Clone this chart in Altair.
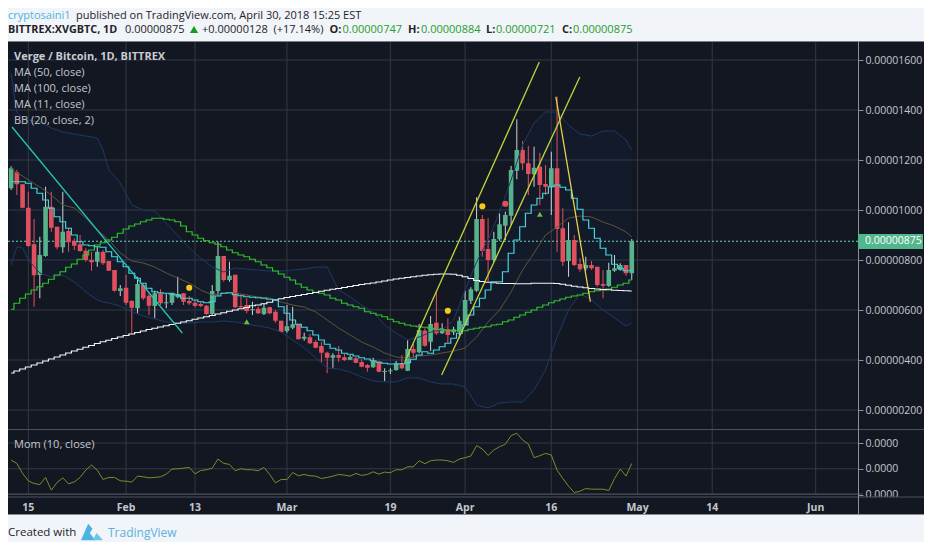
import altair as alt
import pandas as pd

# ---- data (prices in 1e-8 BTC) ----
opens = [1087,1151,1103,1009,863,740,816,1013,933,851,916,876,863,837,800,793,832,796,760,676,689,636,607,700,657,616,667,627,629,651,667,636,629,624,617,584,676,816,720,
         741,616,620,599,605,584,611,593,557,516,529,544,485,491,472,456,429,409,420,411,401,407,392,380,371,393,352,355,360,387,357,444,431,517,473,549,507,523,511,513,540,637,677,964,844,800,883,937,977,1157,1240,1187,1143,1173,1104,1091,1167,927,796,880,784,767,780,773,704,696,757,760,780,747]
highs = [1175,1160,1103,1073,964,893,1093,1073,933,1073,929,887,900,847,833,853,840,796,760,700,740,640,733,707,667,677,683,664,669,733,667,656,640,633,620,700,873,816,793,
         741,663,647,633,613,627,613,600,557,620,613,544,509,504,480,473,433,427,456,424,420,413,403,384,409,397,367,367,396,420,480,464,544,527,576,676,547,567,533,573,677,691,1051,980,967,913,987,993,1176,1363,1276,1256,1253,1229,1180,1233,1453,1007,951,900,807,813,796,773,760,789,820,787,780,884]
lows = [1080,1060,1007,853,613,647,813,913,843,829,833,840,833,793,757,773,780,757,673,656,620,503,587,640,580,567,620,607,620,647,620,620,611,611,580,580,657,713,713,
        607,607,587,580,584,580,583,549,509,509,523,483,477,464,447,391,347,369,393,396,400,387,371,353,369,351,316,344,357,363,356,407,427,453,436,500,504,467,500,487,540,624,673,813,713,793,877,880,940,1123,1160,1060,1093,1020,1060,980,833,776,733,776,753,757,760,693,647,693,753,757,737,721]
closes = [1167,1103,1009,856,739,820,1013,929,851,913,871,857,836,800,791,833,787,757,677,687,629,609,704,647,617,667,627,631,669,664,633,627,617,616,584,676,816,720,737,
          611,611,596,603,587,609,587,557,512,535,543,483,493,467,449,429,409,419,409,400,412,389,373,369,396,353,356,359,387,367,444,429,520,457,544,507,527,500,523,557,640,683,964,836,800,884,943,980,1160,1240,1187,1144,1169,1100,1093,1167,924,793,880,780,763,780,767,700,697,760,767,780,747,875]

ma11 = [1113,1113,1113,1107,1087,1067,1040,1007,973,953,927,900,873,860,857,853,851,833,813,793,773,747,727,707,687,673,669,667,664,660,647,647,640,633,629,633,656,667,669,
        661,657,653,651,649,647,643,640,613,587,560,543,531,517,500,480,463,447,440,427,423,416,409,404,397,391,387,384,384,385,389,403,420,433,427,440,453,467,487,507,540,580,613,647,680,713,713,753,827,880,933,987,1020,1047,1067,1093,1100,1091,1080,1047,1003,960,927,887,847,820,783,767,757,757]
ma50 = [603,627,647,664,680,693,707,723,740,753,771,784,803,820,840,860,869,880,891,907,924,936,944,953,960,967,967,963,960,953,936,913,900,887,877,869,863,853,840,
        829,820,813,803,793,780,769,756,744,731,720,704,691,680,671,667,660,647,640,627,620,613,607,593,587,580,573,563,553,547,540,536,533,531,527,523,521,519,517,517,517,523,527,531,533,540,543,553,560,571,580,591,600,611,620,629,637,644,651,656,660,667,673,677,680,684,691,700,707,720]
ma100 = [348,356,364,372,380,388,396,404,412,420,428,436,443,451,458,466,473,479,486,492,498,504,510,516,522,527,532,537,542,547,552,557,563,568,573,578,584,589,595,
         600,605,610,617,620,625,631,640,645,650,654,658,662,666,670,675,679,683,686,690,694,698,702,705,708,712,716,720,724,727,730,733,736,739,741,743,744,744,743,739,733,726,718,714,711,709,707,706,706,705,705,705,707,707,707,707,706,703,699,695,692,689,686,684,682,681,679,678,677,676]

bb_idx = [0,1,2,3,5,7,9,11,13,15,16,17,19,21,23,25,27,29,31,33,35,37,39,41,43,45,47,49,51,53,55,57,59,61,63,65,67,69,71,73,75,77,79,81,83,85,87,89,91,93,95,97,99,101,103,105,107,108]
bb_upper = [1548,1392,1368,1360,1352,1328,1312,1304,1296,1288,1240,1160,1108,1020,1000,996,948,900,848,808,772,752,768,764,760,756,756,760,764,772,772,680,652,620,592,540,508,480,492,512,520,560,680,792,880,992,1120,1260,1348,1392,1392,1340,1304,1296,1316,1316,1280,1240]
bb_lower = [780,852,848,800,748,732,740,712,672,640,632,628,616,592,576,564,552,548,548,552,552,556,552,544,536,528,512,480,448,408,368,364,352,332,316,312,312,328,328,312,304,304,292,220,208,228,232,232,280,360,492,600,664,640,600,568,536,548]
bb_basis = [1168,1148,1136,1120,1092,1060,1020,1008,968,920,900,880,828,796,788,772,748,728,708,680,660,668,668,660,652,648,632,620,612,592,560,528,500,472,452,428,412,408,416,420,428,436,448,492,552,600,672,760,828,900,932,968,976,972,952,936,912,892]

mom = [169,104,-91,-234,-286,-306,-169,-416,-267,-176,-293,-254,-169,-26,72,-26,-208,-169,-169,-234,-241,-260,-143,-156,-176,-169,-156,-104,-7,0,13,26,-98,-33,-20,13,189,104,85,-39,0,-20,-20,-39,26,-111,-273,-208,-208,-72,-137,-111,-137,-143,-189,-169,-143,-111,-124,-143,-91,-130,-111,-59,-104,-65,-78,-20,-20,39,39,156,98,156,169,169,156,124,189,215,247,449,384,260,364,429,475,644,689,559,481,215,254,299,267,-26,-189,-338,-462,-436,-384,-397,-397,-397,-423,-189,-7,-143,104]

price_ticks = [200,400,600,800,1000,1200,1400,1600]
mom_ticks = [-500,0,500]
time_ticks = ["2018-01-15","2018-02-01","2018-02-13","2018-03-01","2018-03-19","2018-04-01","2018-04-16","2018-05-01","2018-05-14","2018-06-01"]
time_labels = ["15","Feb","13","Mar","19","Apr","16","May","14","Jun"]

trend_cyan = (["2018-01-12T04:00:00Z","2018-02-10T19:00:00Z"],[1332,508])
trend_up1 = (["2018-03-21T12:00:00Z","2018-04-13T22:00:00Z"],[392,1592])
trend_up2 = (["2018-03-27T22:00:00Z","2018-04-20T23:00:00Z"],[340,1532])
trend_down = (["2018-04-16T19:00:00Z","2018-04-22T19:00:00Z"],[1453,633])

yellow_dots = (["2018-02-12","2018-03-29","2018-04-04"],[689,597,1015])
red_dots = (["2018-04-08"],[1025])
green_tris = (["2018-02-22","2018-04-14"],[553,983])

# ---- palette ----
PANEL="#131722"; GRID="#343843"; TXT="#c3c7cf"; RED="#e2505f"; GREEN="#56b38a"; WICK_UP="#ced4d6"
FONT="Open Sans"

# ---- tables ----
dates = pd.date_range("2018-01-12", periods=len(closes)).strftime("%Y-%m-%dT00:00:00Z")
df = pd.DataFrame(dict(date=dates,o=opens,h=highs,l=lows,c=closes,ma11=ma11,ma50=ma50,ma100=ma100,mom=mom))
df["body"] = [GREEN if c>=o else RED for o,c in zip(opens,closes)]
df["wick"] = [WICK_UP if c>=o else RED for o,c in zip(opens,closes)]
bb = pd.DataFrame(dict(date=[dates[i] for i in bb_idx],u=bb_upper,l=bb_lower,b=bb_basis))

def ms(s): return int(pd.Timestamp(s).value//10**6)
xscale = alt.Scale(type="utc",domain=[ms("2018-01-12T08:00:00"),ms("2018-06-18T23:30:00")],range=[0,916])
pscale = alt.Scale(domain=[0,1676],range=[419,0],nice=False,zero=False)
mscale = alt.Scale(domain=[-500,500],range=[453.5,402],nice=False,zero=False)
X = alt.X("date:T",scale=xscale,axis=None)
def PY(f): return alt.Y(f,scale=pscale,axis=None)

def hline(y,color=GRID,x0=0,x1=850):
    return alt.Chart().mark_rule(color=color,strokeWidth=1).encode(x=alt.value(x0),x2=alt.value(x1),y=alt.value(y))
def vline(x,color=GRID,y0=0,y1=474):
    return alt.Chart().mark_rule(color=color,strokeWidth=1).encode(x=alt.value(x),y=alt.value(y0),y2=alt.value(y1))
def txt(s,px,py,color=TXT,size=11,weight="normal"):
    # px, py: page coordinates
    return alt.Chart().mark_text(align="left",baseline="middle",font=FONT,fontSize=size,fontWeight=weight,color=color).encode(
        x=alt.value(px-8),y=alt.value(py-41),text=alt.value(s))
def trend(t,color,w=1.3):
    d=pd.DataFrame(dict(date=t[0],p=t[1]))
    return alt.Chart(d).mark_line(color=color,strokeWidth=w).encode(x=X,y=PY("p:Q"))
def markers(t,shape,color,size):
    d=pd.DataFrame(dict(date=[s+"T00:00:00Z" for s in t[0]],p=t[1]))
    return alt.Chart(d).mark_point(shape=shape,filled=True,opacity=1,color=color,size=size).encode(x=X,y=PY("p:Q"))

layers=[]
# vertical grid
tt=pd.DataFrame(dict(date=[t+"T00:00:00Z" for t in time_ticks],label=time_labels))
layers.append(alt.Chart(tt).mark_rule(color=GRID,strokeWidth=1).encode(x=X,y=alt.value(0),y2=alt.value(388)))
layers.append(alt.Chart(tt).mark_rule(color=GRID,strokeWidth=1).encode(x=X,y=alt.value(389),y2=alt.value(453)))
layers.append(alt.Chart(tt).mark_text(font=FONT,fontSize=10.5,fontWeight="bold",color=TXT,baseline="middle").encode(x=X,y=alt.value(466.5),text="label:N"))

# horizontal grid + price axis
pt=pd.DataFrame(dict(p=price_ticks))
layers.append(alt.Chart(pt).mark_rule(color=GRID,strokeWidth=1).encode(x=alt.value(0),x2=alt.value(850),
    y=alt.Y("p:Q",scale=pscale,axis=alt.Axis(values=price_ticks,orient="right",offset=-66,domain=False,ticks=True,tickSize=5,tickColor="#8a8f98",
        grid=False,labelColor=TXT,labelFont=FONT,labelFontSize=10.5,labelPadding=2,labelExpr="format(datum.value/100000000,'.8f')",title=None,labelOverlap=False,labelFlush=False))))
mt=pd.DataFrame(dict(m=mom_ticks))
layers.append(alt.Chart(mt).mark_rule(color=GRID,strokeWidth=1).encode(x=alt.value(0),x2=alt.value(850),
    y=alt.Y("m:Q",scale=mscale,axis=alt.Axis(values=mom_ticks,orient="right",offset=-66,domain=False,ticks=True,tickSize=5,tickColor="#8a8f98",
        grid=False,labelColor=TXT,labelFont=FONT,labelFontSize=10.5,labelPadding=2,labelExpr="format(abs(datum.value)/100000000,'.4f')",title=None,labelOverlap=False,labelFlush=False))))

# Bollinger bands under the candles
base_bb=alt.Chart(bb)
layers.append(base_bb.mark_area(color="#1e5aa8",opacity=0.07).encode(x=X,y=PY("u:Q"),y2="l:Q"))

# last-price line
lp=pd.DataFrame(dict(p=[closes[-1]]))
layers.append(alt.Chart(lp).mark_rule(color="#6fd8b0",strokeWidth=1,strokeDash=[2,2]).encode(x=alt.value(0),x2=alt.value(850),y=PY("p:Q")))

# candles
base=alt.Chart(df)
layers.append(base.mark_rule(strokeWidth=1).encode(x=X,y=PY("l:Q"),y2="h:Q",color=alt.Color("wick:N",scale=None)))
layers.append(base.mark_bar(size=4.6,stroke=None).encode(x=X,y=PY("o:Q"),y2="c:Q",color=alt.Color("body:N",scale=None)))

# indicators
layers.append(base_bb.mark_line(color="#1d3a66",strokeWidth=1).encode(x=X,y=PY("u:Q")))
layers.append(base_bb.mark_line(color="#1d3a66",strokeWidth=1).encode(x=X,y=PY("l:Q")))
layers.append(base_bb.mark_line(color="#5f5338",strokeWidth=1).encode(x=X,y=PY("b:Q")))
layers.append(base.mark_line(color="#2fc42a",strokeWidth=1.2,interpolate="step").encode(x=X,y=PY("ma50:Q")))
layers.append(base.mark_line(color="#f4f6f6",strokeWidth=1.2,interpolate="step").encode(x=X,y=PY("ma100:Q")))
layers.append(base.mark_line(color="#45d3dc",strokeWidth=1.2,interpolate="step").encode(x=X,y=PY("ma11:Q")))

# drawings
layers.append(trend(trend_cyan,"#22c7b8"))
layers.append(trend(trend_up1,"#c6d33a"))
layers.append(trend(trend_up2,"#c6d33a"))
layers.append(trend(trend_down,"#e6d24a"))
layers.append(markers(yellow_dots,"circle","#f6c91a",38))
layers.append(markers(red_dots,"circle","#e2505f",38))
layers.append(markers(green_tris,"triangle-up","#6fb843",34))

# momentum
layers.append(base.mark_line(color="#7f8a2a",strokeWidth=1).encode(x=X,y=alt.Y("mom:Q",scale=mscale,axis=None)))

# pane furniture
layers.append(alt.Chart().mark_rect(color=PANEL).encode(x=alt.value(851),x2=alt.value(916),y=alt.value(456),y2=alt.value(473)))
layers.append(hline(388.5,"#4c515c",0,916))
layers.append(hline(453,"#4c515c",0,855))
layers.append(hline(456,"#4c515c",0,916))
layers.append(hline(0.5,"#7b7f88",0,916))
layers.append(hline(473.5,"#8a8e96",0,916))
layers.append(vline(850.5,"#8a8f98",0,474))
layers.append(alt.Chart().mark_rect(color="#53b78d").encode(x=alt.value(850),x2=alt.value(915),y=alt.value(193),y2=alt.value(208)))
layers.append(txt("0.00000875",865,241,"#ffffff",10.5))

# pane labels
layers.append(txt("Verge / Bitcoin, 1D, BITTREX",14,57,"#c9ccd3",11,"bold"))
for s,py in [("MA (50, close)",73),("MA (100, close)",89),("MA (11, close)",105),("BB (20, close, 2)",121)]:
    layers.append(txt(s,14,py))
layers.append(txt("Mom (10, close)",14,445))

# header
INK="#1f2328"; UPG="#1e9e2e"; BLUE="#4fb3e0"
layers.append(txt("cryptosaini1",8,16,BLUE,11))
layers.append(txt("published on TradingView.com, April 30, 2018 15:25 EST",76,16,INK,11))
layers.append(txt("BITTREX:XVGBTC, 1D",8,30,INK,10.8,"bold"))
layers.append(txt("0.00000875",125,30,INK,11))
layers.append(alt.Chart().mark_point(shape="triangle-up",filled=True,opacity=1,color="#169c22",size=70).encode(x=alt.value(194-8),y=alt.value(29.5-41)))
layers.append(txt("+0.00000128",202,30,INK,11))
layers.append(txt("(+17.14%)",273.5,30,INK,11))
for lab,lx,val,vx in [("O:",329.5,"0.00000747",342.5),("H:",408,"0.00000884",421),("L:",486,"0.00000721",496),("C:",562,"0.00000875",573)]:
    layers.append(txt(lab,lx,30,INK,11,"bold"))
    layers.append(txt(val,vx,30,UPG,11))

# footer
layers.append(txt("Created with",8,533,INK,11.5))
logo_l="M-1,0.75 L-0.35,-0.75 L0.05,-0.3 L-0.2,0.1 L0.3,0.75 Z"
logo_r="M0.05,0.75 L0.42,0.1 L1,0.75 Z"
layers.append(alt.Chart().mark_point(shape=logo_l,filled=True,opacity=1,color="#4cb2e3",size=484).encode(x=alt.value(92-8),y=alt.value(532-41)))
layers.append(alt.Chart().mark_point(shape=logo_r,filled=True,opacity=1,color="#6dc3ea",size=484).encode(x=alt.value(92-8),y=alt.value(532-41)))
layers.append(txt("TradingView",108,533,"#5bb2de",12))

chart=alt.layer(*layers).resolve_scale(y="independent").properties(
    width=916,height=474,background="#f1f4f8",
    padding={"left":0,"top":33,"right":0,"bottom":27},
    autosize=alt.AutoSizeParams(type="none")
).configure_view(fill=PANEL,stroke=None)

chart.save("out.html",embed_options={"renderer":"svg","actions":False})
